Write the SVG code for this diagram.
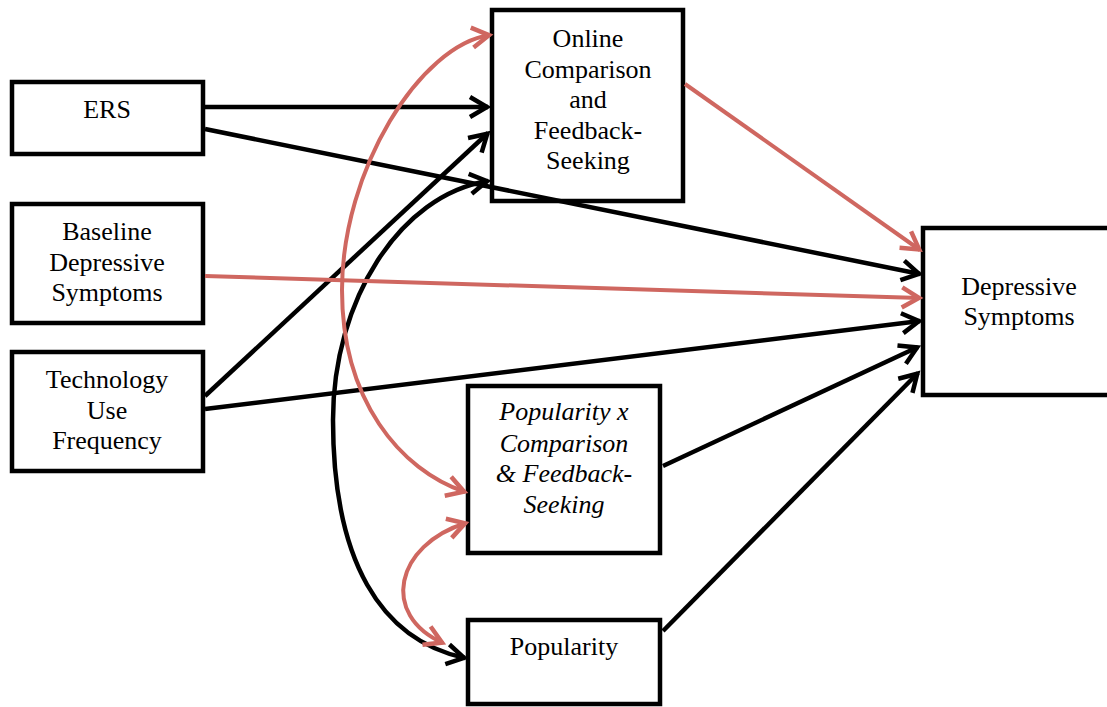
<svg xmlns="http://www.w3.org/2000/svg" width="1107" height="707" viewBox="0 0 1107 707">
<style>
.box{fill:#fff;stroke:#000;stroke-width:4.5}
.t{font-family:"Liberation Serif","Times New Roman",serif;font-size:26px;fill:#000;text-anchor:middle}
.i{font-style:italic}
.blk{fill:none;stroke:#000;stroke-width:4.5}
.red{fill:none;stroke:#CF6760;stroke-width:4}
</style>
<defs>
<marker id="ab" markerUnits="userSpaceOnUse" viewBox="-24 -14 28 28" markerWidth="28" markerHeight="28" refX="0" refY="0" orient="auto-start-reverse">
<path d="M-18,-10 L-1,0 L-18,10" fill="none" stroke="#000" stroke-width="4.5"/>
</marker>
<marker id="ar" markerUnits="userSpaceOnUse" viewBox="-24 -14 28 28" markerWidth="28" markerHeight="28" refX="0" refY="0" orient="auto-start-reverse">
<path d="M-18,-10 L-1,0 L-18,10" fill="none" stroke="#CF6760" stroke-width="4.5"/>
</marker>
</defs>
<rect width="1107" height="707" fill="#fff"/>

<g id="ers">
<rect class="box" x="12" y="82" width="191" height="72"/>
<text class="t" x="107" y="118">ERS</text>
</g>
<g id="baseline">
<rect class="box" x="12" y="204" width="191" height="119"/>
<text class="t" x="107" y="240">Baseline</text>
<text class="t" x="107" y="270.5">Depressive</text>
<text class="t" x="107" y="301">Symptoms</text>
</g>
<g id="technology">
<rect class="box" x="12" y="352" width="191" height="119"/>
<text class="t" x="107" y="388">Technology</text>
<text class="t" x="107" y="418.5">Use</text>
<text class="t" x="107" y="449">Frequency</text>
</g>
<g id="online">
<rect class="box" x="492" y="10" width="191" height="191"/>
<text class="t" x="588" y="47">Online</text>
<text class="t" x="588" y="77.5">Comparison</text>
<text class="t" x="588" y="108">and</text>
<text class="t" x="588" y="138.5">Feedback-</text>
<text class="t" x="588" y="169">Seeking</text>
</g>
<g id="depressive">
<rect class="box" x="923" y="228" width="200" height="167"/>
<text class="t" x="1019" y="295">Depressive</text>
<text class="t" x="1019" y="325">Symptoms</text>
</g>
<g id="interaction">
<rect class="box" x="468" y="386" width="192" height="167"/>
<text class="t i" x="564" y="420">Popularity x</text>
<text class="t i" x="564" y="451.5">Comparison</text>
<text class="t i" x="564" y="482">&amp; Feedback-</text>
<text class="t i" x="564" y="513">Seeking</text>
</g>
<g id="popularity">
<rect class="box" x="468" y="620" width="192" height="84"/>
<text class="t" x="564" y="655">Popularity</text>
</g>

<g id="connectors">
<line class="blk" x1="205" y1="107" x2="488" y2="107" marker-end="url(#ab)"/>
<line class="blk" x1="205" y1="129" x2="920" y2="274" marker-end="url(#ab)"/>
<line class="blk" x1="205" y1="396" x2="488" y2="133" marker-end="url(#ab)"/>
<line class="blk" x1="205" y1="409" x2="920" y2="321" marker-end="url(#ab)"/>
<line class="blk" x1="663" y1="466" x2="918" y2="347" marker-end="url(#ab)"/>
<line class="blk" x1="663" y1="631" x2="918" y2="373" marker-end="url(#ab)"/>
<path class="blk" d="M488,181 C400,195 333,300 333,420 C333,560 380,640 465,658" marker-start="url(#ab)" marker-end="url(#ab)"/>
<line class="red" x1="205" y1="276" x2="920" y2="298" marker-end="url(#ar)"/>
<line class="red" x1="685" y1="84" x2="920" y2="250" marker-end="url(#ar)"/>
<path class="red" d="M490,35 C420,45 342,170 342,290 C342,400 400,470 465,492" marker-start="url(#ar)" marker-end="url(#ar)"/>
<path class="red" d="M466,523 C395,545 380,615 443,643" marker-start="url(#ar)" marker-end="url(#ar)"/>
</g>
</svg>
